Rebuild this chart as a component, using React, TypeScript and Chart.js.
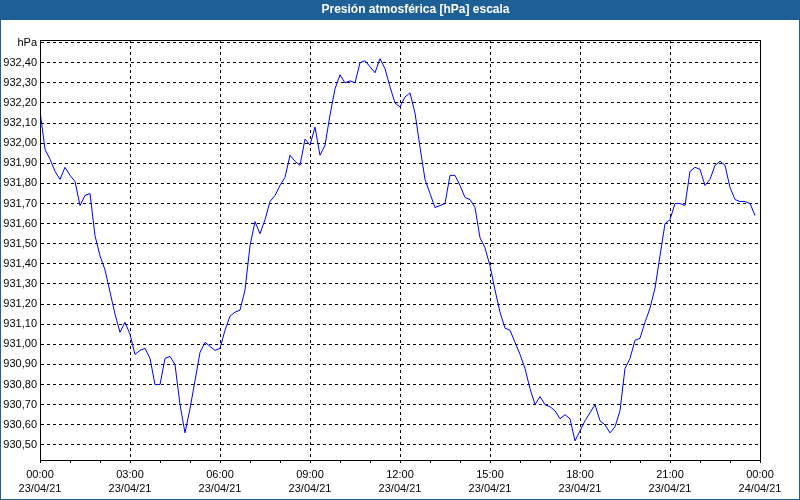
import React, { useEffect, useRef } from 'react';
import { Chart, registerables } from 'chart.js';

Chart.register(...registerables);

const chartTitle = 'Presión atmosférica [hPa] escala';
const unitLabel = 'hPa';
const sampleMinutes = 10;

const pressure = [
  932.16, 931.97, 931.92, 931.86, 931.82, 931.88, 931.84, 931.81, 931.69, 931.74,
  931.75, 931.54, 931.44, 931.37, 931.26, 931.15, 931.06, 931.11, 931.05, 930.95,
  930.97, 930.98, 930.93, 930.80, 930.80, 930.93, 930.94, 930.90, 930.70, 930.56,
  930.68, 930.82, 930.96, 931.01, 930.99, 930.97, 930.98, 931.07, 931.14, 931.16,
  931.17, 931.27, 931.49, 931.61, 931.55, 931.62, 931.71, 931.74, 931.79, 931.83,
  931.94, 931.91, 931.89, 932.02, 931.99, 932.08, 931.94, 931.99, 932.14, 932.27,
  932.34, 932.30, 932.31, 932.30, 932.40, 932.41, 932.38, 932.35, 932.42, 932.37,
  932.28, 932.20, 932.18, 932.23, 932.25, 932.15, 931.98, 931.82, 931.75, 931.68,
  931.69, 931.70, 931.84, 931.84, 931.79, 931.73, 931.72, 931.68, 931.53, 931.48,
  931.39, 931.27, 931.16, 931.08, 931.07, 931.01, 930.95, 930.88, 930.78, 930.70,
  930.74, 930.70, 930.69, 930.67, 930.63, 930.65, 930.63, 930.52, 930.57, 930.62,
  930.66, 930.70, 930.62, 930.60, 930.56, 930.59, 930.67, 930.88, 930.93, 931.02,
  931.03, 931.11, 931.18, 931.28, 931.44, 931.60, 931.62, 931.70, 931.70, 931.69,
  931.86, 931.88, 931.87, 931.79, 931.82, 931.89, 931.91, 931.89, 931.78, 931.72,
  931.71, 931.71, 931.70, 931.64,
];

const xTickHours = [0, 3, 6, 9, 12, 15, 18, 21, 24];
const xTickTimes = ['00:00', '03:00', '06:00', '09:00', '12:00', '15:00', '18:00', '21:00', '00:00'];
const xTickDates = ['23/04/21', '23/04/21', '23/04/21', '23/04/21', '23/04/21', '23/04/21', '23/04/21', '23/04/21', '24/04/21'];

const yTicks = [
  930.5, 930.6, 930.7, 930.8, 930.9, 931.0, 931.1, 931.2, 931.3, 931.4,
  931.5, 931.6, 931.7, 931.8, 931.9, 932.0, 932.1, 932.2, 932.3, 932.4, 932.5,
];
const yMin = 930.425;
const yMax = 932.513;

const BAR_COLOR = '#1e6096';
const FONT = "'Liberation Sans', Arial, sans-serif";

export default function App() {
  const canvasRef = useRef<HTMLCanvasElement | null>(null);

  useEffect(() => {
    if (!canvasRef.current) return;
    const points = pressure.map((v, i) => ({ x: (i * sampleMinutes) / 60, y: v }));

    const framePlugin = {
      id: 'frame',
      beforeDraw(chart: any) {
        const { ctx, width, height } = chart;
        ctx.save();
        ctx.fillStyle = '#ffffff';
        ctx.fillRect(0, 0, width, height);
        ctx.fillStyle = BAR_COLOR;
        ctx.fillRect(0, 0, width, 20);
        ctx.strokeStyle = BAR_COLOR;
        ctx.lineWidth = 1;
        ctx.strokeRect(0.5, 0.5, width - 1, height - 1);
        ctx.fillStyle = '#ffffff';
        ctx.font = `bold 12px ${FONT}`;
        ctx.textAlign = 'center';
        ctx.textBaseline = 'middle';
        ctx.fillText(chartTitle, 415.5, 10);
        ctx.restore();
      },
      afterDraw(chart: any) {
        const { ctx, chartArea } = chart;
        const l = Math.round(chartArea.left) + 0.5;
        const t = Math.round(chartArea.top) + 0.5;
        const r = Math.round(chartArea.right) + 0.5;
        const b = Math.round(chartArea.bottom) + 0.5;
        ctx.save();
        ctx.strokeStyle = '#000';
        ctx.lineWidth = 1;
        ctx.setLineDash([]);
        ctx.strokeRect(l, t, r - l, b - t);
        ctx.restore();
      },
    };

    const chart = new Chart(canvasRef.current, {
      type: 'line',
      data: {
        datasets: [
          {
            data: points,
            borderColor: '#0000ff',
            borderWidth: 1,
            pointRadius: 0,
            tension: 0,
            fill: false,
          },
        ],
      },
      options: {
        animation: false,
        responsive: false,
        devicePixelRatio: 1,
        parsing: false as any,
        layout: { padding: { left: 0, right: 40, top: 40, bottom: 0 } },
        plugins: {
          legend: { display: false },
          tooltip: { enabled: false },
          title: { display: false },
        },
        scales: {
          x: {
            type: 'linear',
            min: 0,
            max: 24,
            afterFit(scale: any) {
              scale.height = 40;
            },
            ticks: {
              stepSize: 1,
              autoSkip: false,
              maxRotation: 0,
              minRotation: 0,
              padding: 5,
              color: '#000',
              font: { family: FONT, size: 11, lineHeight: 1.3 },
              callback(value: any) {
                const idx = xTickHours.indexOf(Math.round(Number(value) * 1000) / 1000);
                return idx >= 0 ? [xTickTimes[idx], xTickDates[idx]] : '';
              },
            },
            grid: {
              color: (ctx: any) =>
                ctx.tick && xTickHours.includes(Math.round(ctx.tick.value * 1000) / 1000)
                  ? '#000'
                  : 'rgba(0,0,0,0)',
              tickColor: '#000',
              tickLength: 3,
              lineWidth: 1,
            },
            border: { display: true, color: '#000', width: 1, dash: [3, 3] },
          },
          y: {
            type: 'linear',
            min: yMin,
            max: yMax,
            afterFit(scale: any) {
              scale.width = 40;
            },
            afterBuildTicks(scale: any) {
              scale.ticks = yTicks.map((v) => ({ value: v }));
            },
            ticks: {
              padding: 3,
              color: '#000',
              font: { family: FONT, size: 11 },
              callback(value: any) {
                const v = Number(value);
                if (Math.abs(v - yTicks[yTicks.length - 1]) < 1e-6) return unitLabel;
                return v.toFixed(2).replace('.', ',');
              },
            },
            grid: {
              color: '#000',
              drawTicks: false,
              lineWidth: 1,
            },
            border: { display: true, color: '#000', width: 1, dash: [3, 3] },
          },
        },
      },
      plugins: [framePlugin],
    });

    return () => chart.destroy();
  }, []);

  return (
    <div style={{ position: 'fixed', left: 0, top: 0, width: 800, height: 500, background: '#fff' }}>
      <canvas ref={canvasRef} width={800} height={500} style={{ display: 'block', width: 800, height: 500 }} />
    </div>
  );
}
